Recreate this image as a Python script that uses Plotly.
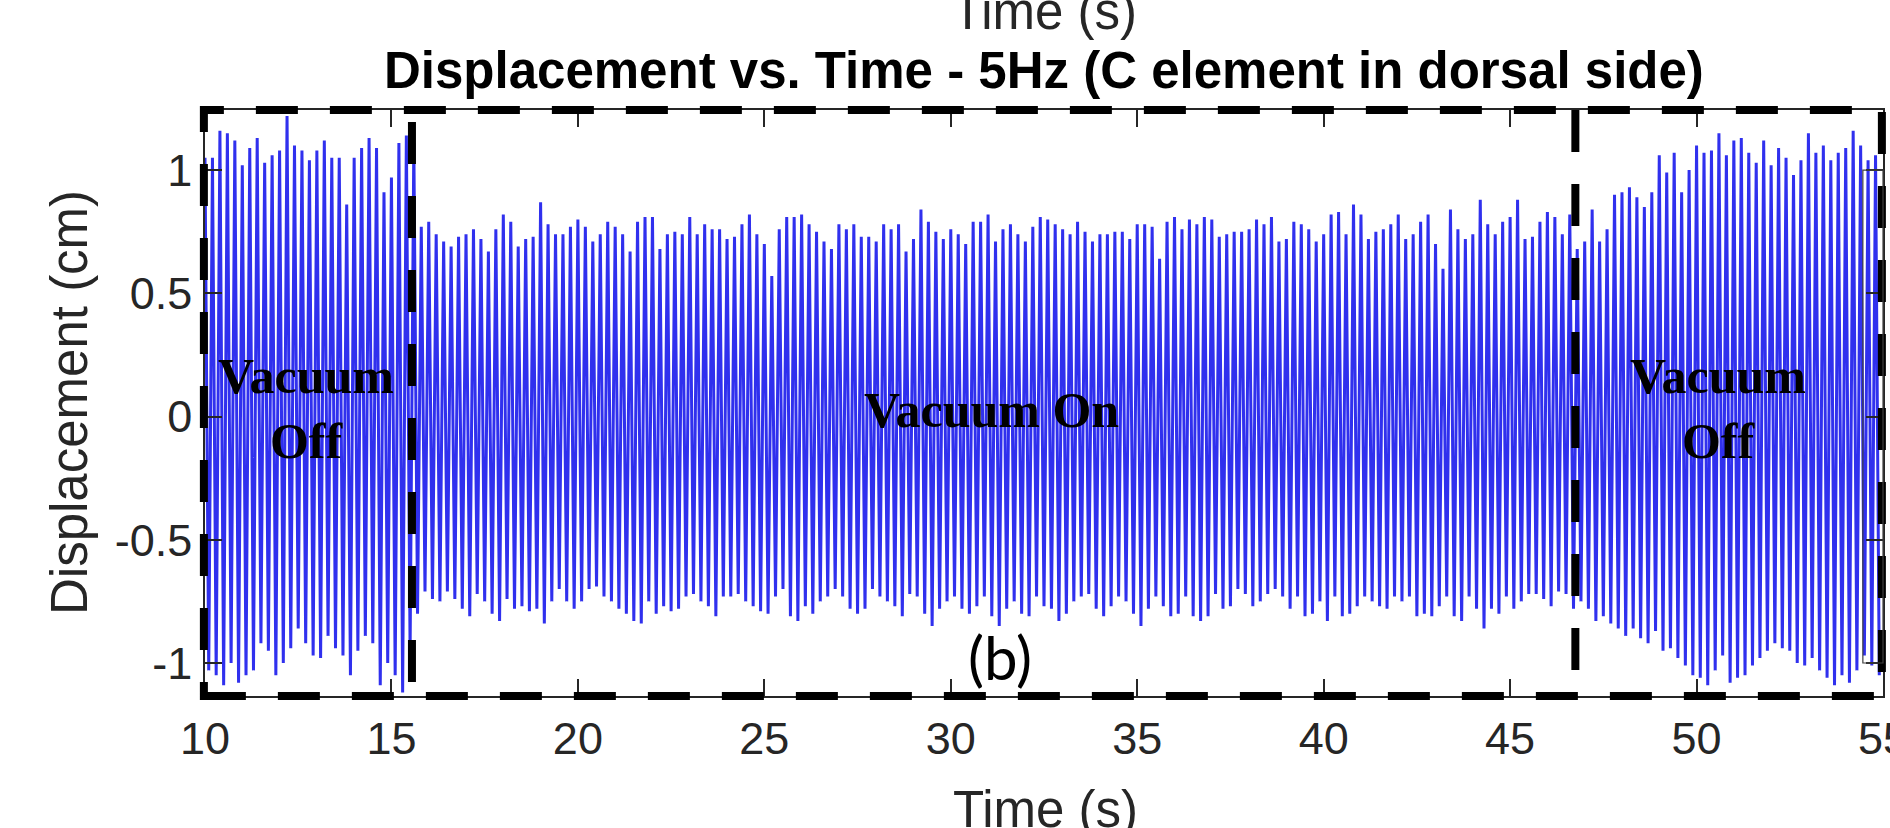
import plotly.graph_objects as go

# ---------------- data ----------------
SIGNAL_FREQ_HZ = 5.0            # 5 Hz excitation -> one peak + one trough per 0.2 s
T_START = 10.0

# Vacuum off (t ~ 10 - 15.8 s)
peaks_off_before = [1.05, 1.05, 1.16, 1.15, 1.12, 1.02, 1.09, 1.13, 1.03, 1.06,
                    1.08, 1.22, 1.10, 1.08, 1.04, 1.08, 1.12, 1.05, 1.05, 0.86,
                    1.05, 1.09, 1.13, 1.09, 0.91, 0.97, 1.11, 1.14, 1.11]
troughs_off_before = [-1.03, -1.05, -1.09, -1.00, -1.08, -1.05, -1.03, -0.92, -0.95, -1.05,
                      -1.00, -0.94, -0.86, -0.92, -0.97, -0.98, -0.89, -0.94, -0.97, -1.05,
                      -0.95, -0.89, -0.92, -1.09, -1.00, -1.05, -1.12, -0.95, -0.80]

# Vacuum on (t ~ 15.8 - 46.8 s)
peaks_on = [0.77, 0.79, 0.74, 0.71, 0.69, 0.73, 0.74, 0.76, 0.72, 0.67,
            0.76, 0.82, 0.79, 0.69, 0.72,
            0.73, 0.87, 0.78, 0.74, 0.74, 0.77, 0.80, 0.77, 0.71, 0.74,
            0.79, 0.77, 0.74, 0.67, 0.79, 0.81, 0.81, 0.68, 0.74, 0.75,
            0.74, 0.81, 0.74, 0.78, 0.76, 0.76, 0.72, 0.73, 0.78, 0.82,
            0.74, 0.70, 0.57, 0.76, 0.81, 0.81, 0.82, 0.78, 0.75, 0.71,
            0.68, 0.78, 0.76, 0.78, 0.73,
            0.73, 0.71, 0.78, 0.76, 0.78, 0.67, 0.72, 0.84, 0.79, 0.75,
            0.72, 0.76, 0.74, 0.70, 0.79, 0.79, 0.82, 0.71, 0.76, 0.78,
            0.74, 0.71, 0.77, 0.81, 0.80, 0.78, 0.76, 0.74, 0.79, 0.75,
            0.71, 0.74, 0.74, 0.75, 0.75, 0.72, 0.78, 0.78, 0.77, 0.64,
            0.79, 0.81, 0.76, 0.80, 0.78,
            0.81, 0.80, 0.73, 0.74, 0.75, 0.75, 0.76, 0.80, 0.78, 0.81,
            0.71, 0.72, 0.79, 0.78, 0.76, 0.71, 0.74, 0.82, 0.83, 0.74,
            0.86, 0.82, 0.72, 0.75, 0.76, 0.78, 0.82, 0.72, 0.74, 0.79,
            0.82, 0.70, 0.60, 0.84, 0.76, 0.72, 0.74, 0.88, 0.78, 0.74,
            0.79, 0.81, 0.88, 0.72,
            0.73, 0.79, 0.83, 0.81, 0.74, 0.82]
troughs_on = [-0.71, -0.74, -0.75, -0.71, -0.74, -0.78, -0.81, -0.72, -0.75, -0.80,
              -0.83, -0.74, -0.78, -0.77, -0.79,
              -0.78, -0.84, -0.75, -0.70, -0.75, -0.78, -0.75, -0.70, -0.69, -0.73,
              -0.75, -0.78, -0.80, -0.83, -0.84, -0.75, -0.80, -0.77, -0.79, -0.78,
              -0.73, -0.72, -0.75, -0.77, -0.81, -0.73, -0.73, -0.72, -0.75, -0.77,
              -0.79, -0.80, -0.73, -0.70, -0.81, -0.83, -0.77, -0.80, -0.75, -0.73,
              -0.70, -0.73, -0.78, -0.80, -0.78,
              -0.70, -0.73, -0.75, -0.77, -0.81, -0.72, -0.73, -0.80, -0.85, -0.78,
              -0.75, -0.73, -0.78, -0.80, -0.77, -0.73, -0.81, -0.85, -0.78, -0.75,
              -0.80, -0.81, -0.73, -0.77, -0.78, -0.83, -0.80, -0.75, -0.73, -0.72,
              -0.78, -0.81, -0.77, -0.73, -0.75, -0.80, -0.85, -0.78, -0.73, -0.77,
              -0.81, -0.80, -0.73, -0.81, -0.83,
              -0.81, -0.72, -0.78, -0.77, -0.70, -0.72, -0.77, -0.75, -0.72, -0.70,
              -0.73, -0.78, -0.73, -0.81, -0.80, -0.75, -0.83, -0.73, -0.81, -0.80,
              -0.77, -0.73, -0.75, -0.77, -0.78, -0.73, -0.75, -0.73, -0.81, -0.80,
              -0.81, -0.77, -0.73, -0.81, -0.83, -0.73, -0.78, -0.86, -0.78, -0.80,
              -0.73, -0.78, -0.75, -0.72,
              -0.72, -0.74, -0.77, -0.71, -0.72, -0.78]

# Vacuum off again (t ~ 46.8 - 55 s)
peaks_off_after = [0.68, 0.71, 0.84, 0.71, 0.76, 0.90, 0.91, 0.93, 0.89, 0.85,
                   0.91, 1.06, 0.99, 1.07, 0.91, 1.00, 1.10, 1.07, 1.08, 1.15,
                   1.06, 1.12, 1.13, 1.07, 1.03, 1.12, 1.02, 1.09, 1.05, 0.98,
                   1.04, 1.15, 1.07, 1.10, 1.04, 1.07, 1.09, 1.16, 1.10, 1.04, 1.06]
troughs_off_after = [-0.75, -0.78, -0.83, -0.81, -0.84, -0.86, -0.89, -0.86, -0.90, -0.92,
                     -0.87, -0.95, -0.94, -0.98, -1.01, -1.05, -1.06, -1.09, -1.03, -0.97,
                     -1.08, -1.06, -1.05, -1.01, -0.98, -0.95, -0.92, -0.94, -0.95, -1.00,
                     -1.01, -0.98, -1.03, -1.06, -1.09, -1.05, -1.08, -1.03, -0.97, -1.01, -1.05]

x_tick_vals = [10, 15, 20, 25, 30, 35, 40, 45, 50, 55]
y_tick_vals = [-1, -0.5, 0, 0.5, 1]
y_tick_text = ["-1", "-0.5", "0", "0.5", "1"]

X_RANGE = [10, 55]
Y_RANGE = [-1.134, 1.244]

# region boundaries (s) drawn as dashed boxes
region_edges = [9.97, 15.55, 46.75, 54.97]

# ---------------- build the trace ----------------
peaks = peaks_off_before + peaks_on + peaks_off_after
troughs = troughs_off_before + troughs_on + troughs_off_after
half = 0.5 / SIGNAL_FREQ_HZ
t_vals, d_vals = [], []
for k, (p, q) in enumerate(zip(peaks, troughs)):
    t0 = T_START + 2 * half * k
    t_vals += [t0, t0 + half]
    d_vals += [p, q]

W, H = 1890, 828
ML, MR, MT, MB = 205, 7, 110, 132
PW, PH = W - ML - MR, H - MT - MB


def xp(px):
    return (px - ML) / PW


def yp(py):
    return (H - MB - py) / PH


def xd(t):
    return (t - X_RANGE[0]) / (X_RANGE[1] - X_RANGE[0])


def yd(v):
    return (v - Y_RANGE[0]) / (Y_RANGE[1] - Y_RANGE[0])


fig = go.Figure()
fig.add_trace(go.Scatter(x=t_vals, y=d_vals, mode="lines",
                         line=dict(color="rgb(48,48,238)", width=3),
                         hoverinfo="skip", showlegend=False))

axis_common = dict(showgrid=False, zeroline=False, showline=True,
                   linecolor="#262626", linewidth=1.5, mirror="ticks",
                   ticks="inside", ticklen=17, tickwidth=1.5, tickcolor="#262626",
                   tickfont=dict(family="Liberation Sans, Arial", size=45, color="#262626"),
                   automargin=False)

fig.update_xaxes(range=X_RANGE, tickvals=x_tick_vals,
                 ticktext=[str(v) for v in x_tick_vals],
                 ticklabeloverflow="allow", ticklabelstandoff=2, **axis_common)
fig.update_yaxes(range=Y_RANGE, tickvals=y_tick_vals, ticktext=y_tick_text,
                 ticklabelstandoff=2, **axis_common)

# dashed region boxes: outer frame + two dividing lines
DASH = dict(color="black", width=8, dash="42px,32px")
top_v, bot_v = 1.244, -1.134
fig.add_shape(type="rect", xref="paper", yref="paper",
              x0=xd(region_edges[0]), x1=xd(region_edges[3]), y0=yd(bot_v), y1=yd(top_v),
              line=DASH, layer="above")
fig.add_shape(type="line", xref="paper", yref="paper",
              x0=xd(region_edges[1]), x1=xd(region_edges[1]), y0=yd(1.195), y1=yd(-1.10),
              line=DASH, layer="above")
fig.add_shape(type="line", xref="paper", yref="paper",
              x0=xd(region_edges[2]), x1=xd(region_edges[2]), y0=yd(top_v), y1=yd(bot_v),
              line=DASH, layer="above")
# small thin box at right edge
fig.add_shape(type="rect", xref="paper", yref="paper",
              x0=xd(54.46), x1=xd(55), y0=yd(-1.0), y1=yd(1.0),
              line=dict(color="#404040", width=1.2), layer="above")

sans = "Liberation Sans, Arial"
serif = "Liberation Serif, Times New Roman"
ann = [
    dict(text="Time (s)", x=xp(1044), y=yp(11), font=dict(family=sans, size=51, color="#262626")),
    dict(text="<b>Displacement vs. Time - 5Hz (C element in dorsal side)</b>",
         x=xp(1044), y=yp(70), font=dict(family=sans, size=51, color="black")),
    dict(text="Time (s)", x=xp(1045), y=yp(809), font=dict(family=sans, size=51, color="#262626")),
    dict(text="Displacement (cm)", x=xp(69), y=yp(403), textangle=-90,
         font=dict(family=sans, size=51, color="#262626")),
    dict(text="<b>Vacuum<br>Off</b>", x=xp(306), y=yp(408),
         font=dict(family=serif, size=50, color="black")),
    dict(text="<b>Vacuum On</b>", x=xp(991), y=yp(410),
         font=dict(family=serif, size=50, color="black")),
    dict(text="<b>Vacuum<br>Off</b>", x=xp(1718), y=yp(408),
         font=dict(family=serif, size=50, color="black")),
    dict(text="(b)", x=xp(1000), y=yp(657), font=dict(family="Lato, Open Sans", size=60, color="black")),
]
for a in ann:
    fig.add_annotation(xref="paper", yref="paper", showarrow=False,
                       xanchor="center", yanchor="middle", **a)

fig.update_layout(width=W, height=H, autosize=False,
                  margin=dict(l=ML, r=MR, t=MT, b=MB, pad=0),
                  paper_bgcolor="white", plot_bgcolor="white",
                  showlegend=False)

fig.write_html("out.html", config={"displayModeBar": False},
               post_script="document.body.style.margin='0';document.body.style.overflow='hidden';")
